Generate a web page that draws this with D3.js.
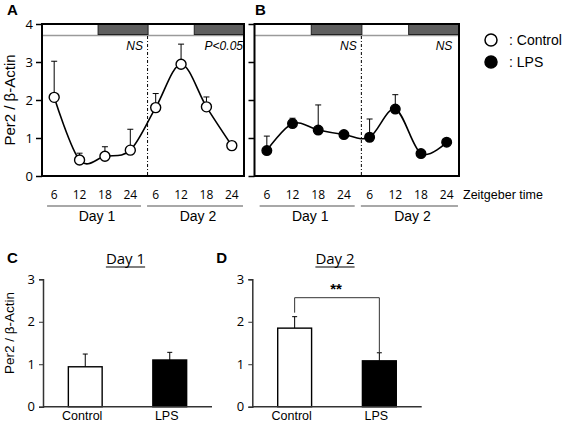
<!DOCTYPE html>
<html><head><meta charset="utf-8">
<script src="https://cdn.jsdelivr.net/npm/d3@7"></script>
<style>body{margin:0;background:#fff}svg{display:block}</style>
</head><body><svg id="c" width="568" height="425"></svg>
<script>
// ---------- data ----------
const ztLabels = ["6","12","18","24","6","12","18","24"];
const dayLabels = ["Day 1","Day 2"];
const controlMeans = [2.07, 0.42, 0.52, 0.68, 1.80, 2.94, 1.82, 0.80];
const controlErr   = [0.95, 0.18, 0.25, 0.55, 0.37, 0.53, 0.26, 0.00];
const lpsMeans     = [0.67, 1.38, 1.21, 1.09, 1.02, 1.76, 0.59, 0.89];
const lpsErr       = [0.38, 0.14, 0.66, 0.00, 0.48, 0.38, 0.00, 0.00];
const yTicksTop = [0,1,2,3,4];
const annotA = ["NS","P<0.05"];
const annotB = ["NS","NS"];
// light/dark phases (in sample-index units)
const phaseStart = [-0.48, 1.73, 3.7, 5.52];
const phaseEnd   = [1.73, 3.7, 5.52, 7.48];
const phaseDark  = [false, true, false, true];
const groups = ["Control","LPS"];
const day1Means = [0.94, 1.10];
const day1Err   = [0.30, 0.18];
const day2Means = [1.85, 1.08];
const day2Err   = [0.27, 0.19];
const yTicksBottom = [0,1,2,3];

const svg = d3.select("#c");
const ARIAL = "'Liberation Sans', Arial, sans-serif";
const CAL = "'Open Sans', 'Noto Sans', sans-serif";

function timePanel(x0, x1, means, errs, filled, annots, showYLabels, letter, letterX) {
  const g = svg.append("g");
  const x = d3.scaleLinear().domain([-0.48, 7.48]).range([x0, x1]);
  const y = d3.scaleLinear().domain([0, 4]).range([176, 24]);
  const idx = d3.range(means.length);

  // light-dark bar
  g.append("line").attr("x1", x0).attr("x2", x1).attr("y1", 35.5).attr("y2", 35.5)
    .attr("stroke", "#9a9a9a").attr("stroke-width", 1.6);
  g.selectAll("rect.ph").data(d3.range(phaseStart.length).filter(i => phaseDark[i])).join("rect")
    .attr("x", i => x(phaseStart[i])).attr("width", i => x(phaseEnd[i]) - x(phaseStart[i]))
    .attr("y", 24).attr("height", 10.5)
    .attr("fill", "#5e5e5e").attr("stroke", "#222").attr("stroke-width", 1);

  // dash-dot separator
  g.append("line").attr("x1", x(3.68)).attr("x2", x(3.68)).attr("y1", 36).attr("y2", 176)
    .attr("stroke", "#000").attr("stroke-width", 1).attr("stroke-dasharray", "3,2,1,2");

  // annotations
  g.append("text").attr("x", x(3.5)).attr("y", 50).attr("text-anchor", "end")
    .attr("font-family", ARIAL).attr("font-style", "italic").attr("font-size", 12).text(annots[0]);
  g.append("text").attr("x", showYLabels ? x(7.44) : x(7.22)).attr("y", 50).attr("text-anchor", "end")
    .attr("font-family", ARIAL).attr("font-style", "italic").attr("font-size", 12).text(annots[1]);

  // error bars
  const eb = g.append("g").attr("stroke", "#000").attr("stroke-width", 1);
  idx.filter(i => errs[i] > 0).forEach(i => {
    eb.append("line").attr("x1", x(i)).attr("x2", x(i)).attr("y1", y(means[i])).attr("y2", y(means[i] + errs[i]));
    eb.append("line").attr("x1", x(i) - 3).attr("x2", x(i) + 3).attr("y1", y(means[i] + errs[i])).attr("y2", y(means[i] + errs[i]));
  });

  // curve
  const line = d3.line().x(i => x(i)).y(i => y(means[i])).curve(d3.curveCardinal.tension(0));
  g.append("path").attr("d", line(idx)).attr("fill", "none").attr("stroke", "#000").attr("stroke-width", 1.6);

  g.selectAll("circle.pt").data(idx).join("circle")
    .attr("cx", i => x(i)).attr("cy", i => y(means[i])).attr("r", filled ? 4.8 : 5)
    .attr("fill", filled ? "#000" : "#fff").attr("stroke", "#000").attr("stroke-width", 1.4);

  // frame
  g.append("rect").attr("x", x0).attr("y", 24).attr("width", x1 - x0).attr("height", 152)
    .attr("fill", "none").attr("stroke", "#000").attr("stroke-width", 2);

  // y axis
  const ax = g.append("g").attr("transform", `translate(${x0},0)`)
    .call(d3.axisLeft(y).tickValues(yTicksTop).tickSize(6).tickPadding(3)
      .tickFormat(showYLabels ? d3.format("d") : () => ""));
  ax.select(".domain").remove();
  ax.selectAll("line").attr("stroke-width", 1.5);
  ax.selectAll("text").attr("font-family", CAL).attr("font-size", 13).attr("fill", "#000");

  // x labels
  g.selectAll("text.zt").data(idx).join("text")
    .attr("x", i => x(i)).attr("y", 199).attr("text-anchor", "middle")
    .attr("font-family", CAL).attr("font-size", 12).text(i => ztLabels[i]);
  const dayStart = [-0.28, 3.66], dayEnd = [3.42, 7.44];
  dayLabels.forEach((d, k) => {
    g.append("line").attr("x1", x(dayStart[k])).attr("x2", x(dayEnd[k])).attr("y1", 206).attr("y2", 206)
      .attr("stroke", "#a8a8a8").attr("stroke-width", 2);
    g.append("text").attr("x", (x(dayStart[k]) + x(dayEnd[k])) / 2 + 3).attr("y", 221)
      .attr("text-anchor", "middle").attr("font-family", ARIAL).attr("font-size", 14).text(d);
  });

  svg.append("text").attr("x", letterX).attr("y", 15).attr("font-family", ARIAL)
    .attr("font-weight", "bold").attr("font-size", 15).text(letter);
}

timePanel(42, 244, controlMeans, controlErr, false, annotA, true, "A", 7);
timePanel(254.5, 459, lpsMeans, lpsErr, true, annotB, false, "B", 255);

svg.append("text").attr("transform", "translate(15,100) rotate(-90)").attr("text-anchor", "middle")
  .attr("font-family", ARIAL).attr("font-size", 15).text("Per2 / β-Actin");

svg.append("text").attr("x", 463).attr("y", 199).attr("font-family", ARIAL).attr("font-size", 12.5).text("Zeitgeber time");

// legend
const legendNames = [": Control", ": LPS"];
legendNames.forEach((n, k) => {
  svg.append("circle").attr("cx", 491).attr("cy", 40 + k * 22).attr("r", 6)
    .attr("fill", k ? "#000" : "#fff").attr("stroke", "#000").attr("stroke-width", 1.5);
  svg.append("text").attr("x", 509).attr("y", 45 + k * 22).attr("font-family", ARIAL).attr("font-size", 14).text(n);
});

// ---------- bar panels ----------
function barPanel(x0, x1, means, errs, title, letter, showYTitle, sig) {
  const g = svg.append("g");
  const x = d3.scaleBand().domain(groups).range([x0, x1]).paddingInner(0.6).paddingOuter(0.3);
  const y = d3.scaleLinear().domain([0, 3]).range([406.7, 279.3]);

  // error bars
  groups.forEach((c, i) => {
    const cx = x(c) + x.bandwidth() / 2;
    g.append("line").attr("x1", cx).attr("x2", cx).attr("y1", y(means[i])).attr("y2", y(means[i] + errs[i]))
      .attr("stroke", "#000").attr("stroke-width", 1);
    g.append("line").attr("x1", cx - 2.5).attr("x2", cx + 2.5).attr("y1", y(means[i] + errs[i])).attr("y2", y(means[i] + errs[i]))
      .attr("stroke", "#000").attr("stroke-width", 1);
  });
  g.selectAll("rect.bar").data(groups).join("rect")
    .attr("x", c => x(c)).attr("width", x.bandwidth())
    .attr("y", (c, i) => y(means[i])).attr("height", (c, i) => y(0) - y(means[i]))
    .attr("fill", (c, i) => i ? "#000" : "#fff").attr("stroke", "#000").attr("stroke-width", 1.4);

  const ay = g.append("g").attr("transform", `translate(${x0},0)`)
    .call(d3.axisLeft(y).tickValues(yTicksBottom).tickSize(4).tickPadding(4).tickFormat(d3.format("d")));
  ay.select(".domain").attr("stroke", "#333").attr("stroke-width", 1.5);
  ay.selectAll("line").attr("stroke", "#333");
  ay.selectAll("text").attr("font-family", CAL).attr("font-size", 13).attr("fill", "#000");

  g.append("line").attr("x1", x0).attr("x2", x1).attr("y1", y(0)).attr("y2", y(0))
    .attr("stroke", "#333").attr("stroke-width", 1.5);
  groups.forEach(c => {
    g.append("text").attr("x", x(c) + x.bandwidth() / 2 - 3).attr("y", 420).attr("text-anchor", "middle")
      .attr("font-family", ARIAL).attr("font-size", 12.5).text(c);
  });

  const tx = x(groups[0]) + x.bandwidth() / 2 + (x(groups[1]) - x(groups[0])) / 2;
  const t = g.append("text").attr("x", tx - 2).attr("y", 264).attr("text-anchor", "middle")
    .attr("font-family", CAL).attr("font-size", 15).text(title);
  const bb = t.node().getBBox();
  g.append("line").attr("x1", bb.x).attr("x2", bb.x + bb.width).attr("y1", 267).attr("y2", 267)
    .attr("stroke", "#000").attr("stroke-width", 1.2);

  svg.append("text").attr("x", x0 - 36).attr("y", 263).attr("font-family", ARIAL)
    .attr("font-weight", "bold").attr("font-size", 15).text(letter);

  if (showYTitle) {
    svg.append("text").attr("transform", `translate(${x0 - 29},333) rotate(-90)`).attr("text-anchor", "middle")
      .attr("font-family", ARIAL).attr("font-size", 13.5).text("Per2 / β-Actin");
  }
  if (sig) {
    const c0 = x(groups[0]) + x.bandwidth() / 2, c1 = x(groups[1]) + x.bandwidth() / 2;
    const top = 297.7;
    g.append("path")
      .attr("d", `M${c0},${y(means[0] + errs[0]) - 4}V${top}H${c1}V${y(means[1] + errs[1])}`)
      .attr("fill", "none").attr("stroke", "#333").attr("stroke-width", 1);
    g.append("text").attr("x", (c0 + c1) / 2 - 1).attr("y", 294).attr("text-anchor", "middle")
      .attr("font-family", ARIAL).attr("font-weight", "bold").attr("font-size", 15).text(sig);
  }
}
barPanel(43, 212, day1Means, day1Err, "Day 1", "C", true, null);
barPanel(252.3, 421.7, day2Means, day2Err, "Day 2", "D", false, "**");
</script></body></html>
